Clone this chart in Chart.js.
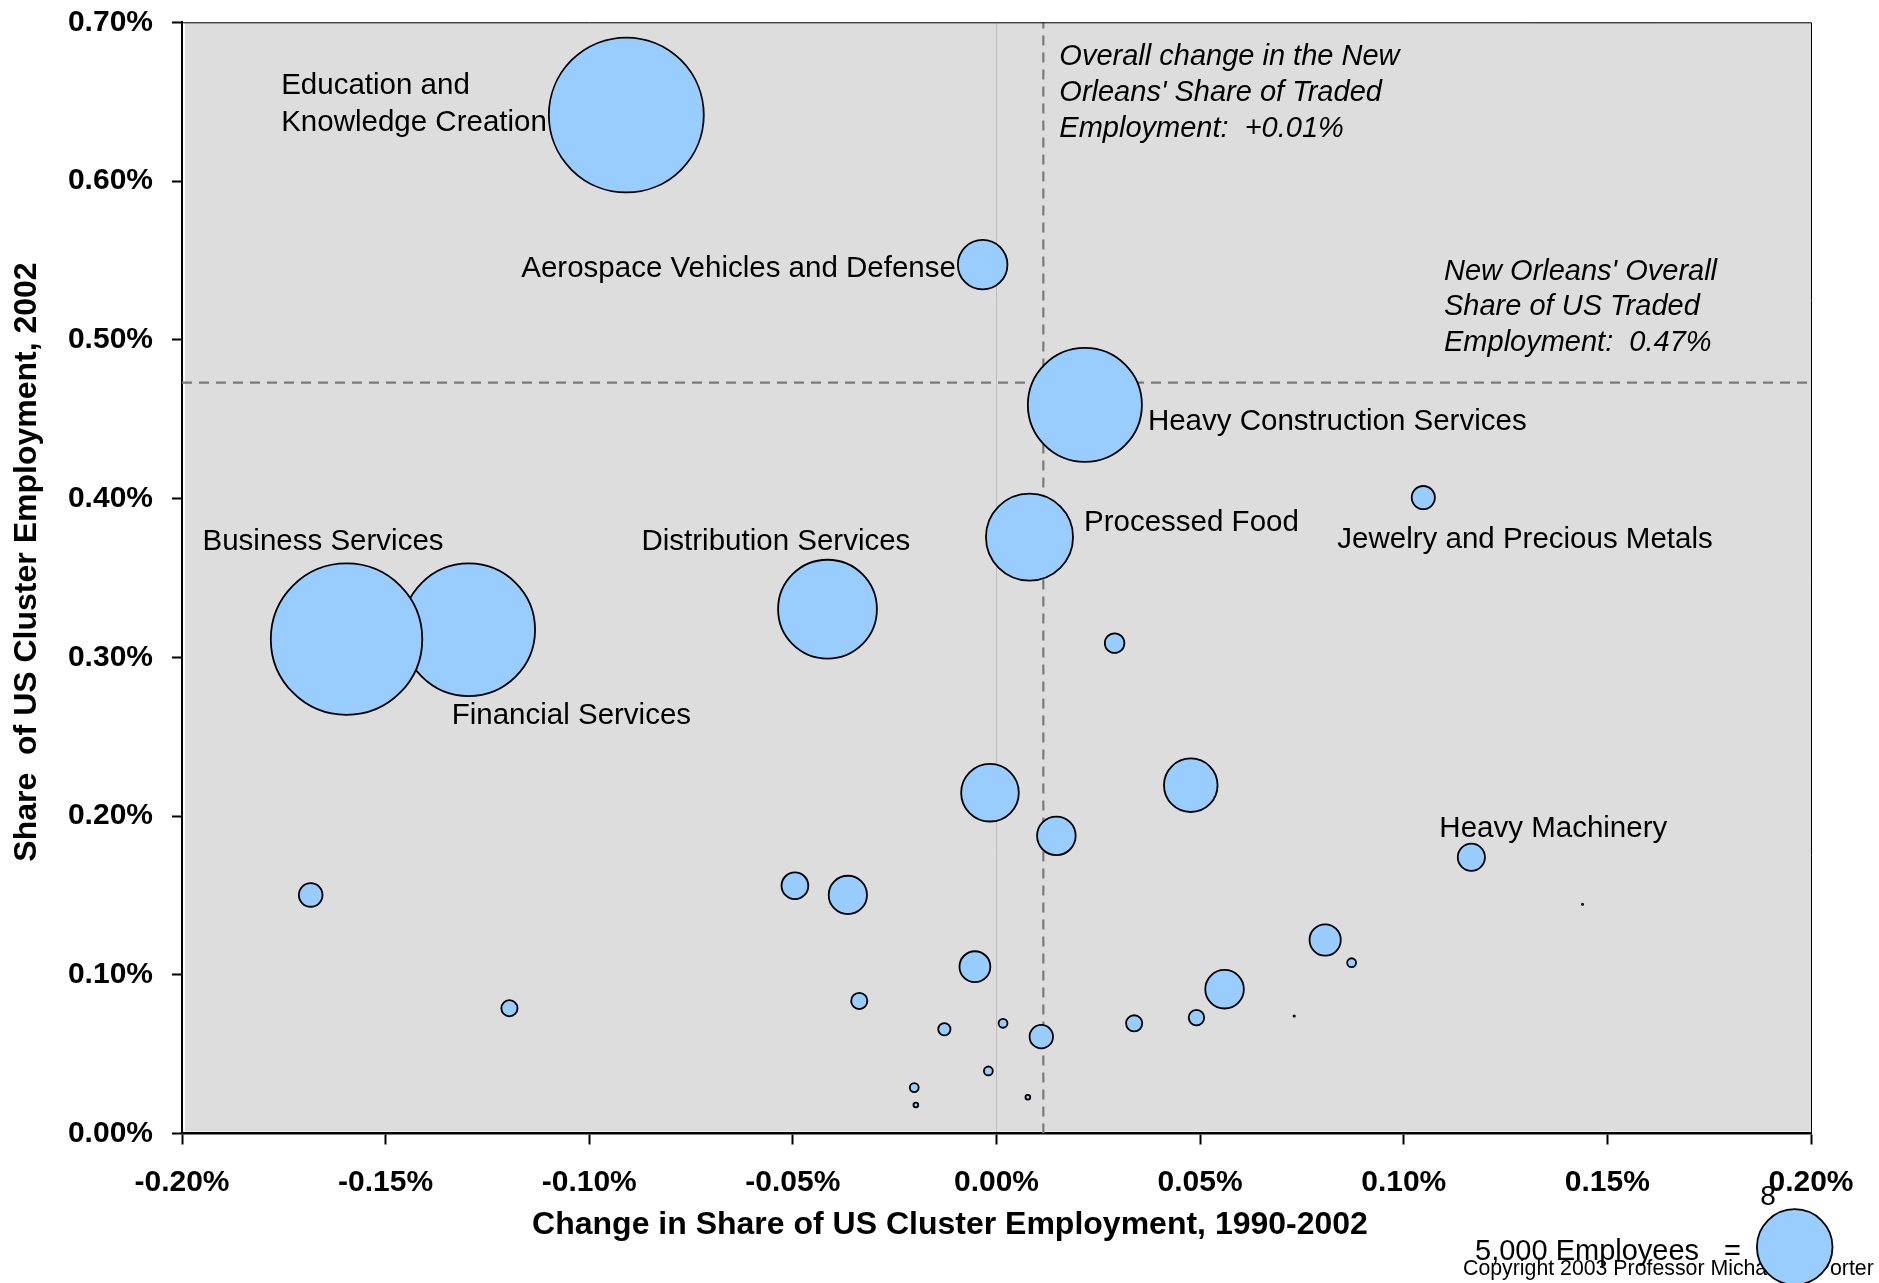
<!DOCTYPE html>
<html>
<head>
<meta charset="utf-8">
<title>New Orleans - Traded Clusters</title>
<script src="https://cdn.jsdelivr.net/npm/chart.js@4.4.1/dist/chart.umd.min.js"></script>
<style>
  html, body { margin: 0; padding: 0; background: #fff; overflow: hidden; }
  #wrap { width: 1879px; height: 1283px; }
</style>
</head>
<body>
<div id="wrap"><canvas id="grafico" width="1879" height="1283"></canvas></div>
<script>
// ===== DADOS =====
// Financial Services vem antes de Business Services para ficar por baixo
const clusterNames = [
  'Education and Knowledge Creation', 'Aerospace Vehicles and Defense', 'Heavy Construction Services',
  'Processed Food', 'Jewelry and Precious Metals', 'Financial Services', 'Business Services',
  'Distribution Services', 'Heavy Machinery',
  '', '', '', '', '', '', '', '', '', '', '', '', '', '', '', '', '', '', '', '', '', '', '', ''
];
// variação da participação no emprego do cluster nos EUA, 1990-2002 (%)
const shareChange = [
  -0.0909, -0.0034, 0.0217, 0.0081, 0.1048, -0.1296, -0.1596, -0.0415, 0.1166,
  0.0290, -0.0016, 0.0477, 0.0147, -0.1684, -0.0495, -0.0365, 0.0807, 0.0872, -0.0053,
  -0.1196, -0.0337, 0.0560, 0.0731, 0.0491, 0.0338, 0.0110, 0.0016, -0.0128, -0.0020,
  -0.0202, -0.0198, 0.0077, 0.1439
];
// participação no emprego do cluster nos EUA, 2002 (%)
const share2002 = [
  0.6416, 0.5473, 0.4590, 0.3757, 0.4006, 0.3173, 0.3114, 0.3303, 0.1740,
  0.3089, 0.2147, 0.2194, 0.1875, 0.1503, 0.1561, 0.1503, 0.1219, 0.1076, 0.1051,
  0.0789, 0.0835, 0.0909, 0.0740, 0.0730, 0.0694, 0.0610, 0.0694, 0.0657, 0.0394,
  0.0289, 0.0180, 0.0228, 0.1444
];
// empregados no cluster
const employees = [
  20500, 2200, 11200, 6600, 520, 15100, 19600, 8450, 700,
  380, 2950, 2560, 1360, 540, 680, 1340, 910, 95, 890,
  270, 270, 1360, 8, 250, 270, 530, 95, 165, 95,
  95, 36, 36, 8
];

const xTickValues = [-0.20, -0.15, -0.10, -0.05, 0.00, 0.05, 0.10, 0.15, 0.20];
const yTickValues = [0.00, 0.10, 0.20, 0.30, 0.40, 0.50, 0.60, 0.70];

const overallChange = 0.0115;   // variação total de New Orleans
const overallShare = 0.473;     // participação total de New Orleans
const legendEmployees = 5000;

// ===== ESTILO =====
const FONTE = '"Liberation Sans", Arial, Helvetica, sans-serif';
const AZUL = '#99CCFF';
const R_LEGENDA = 38.7;   // raio (px) da bolha de 5.000 empregados
const LINE_H = 36.3;

function raio(emp) {
  return Math.max(R_LEGENDA * Math.sqrt(emp / legendEmployees) - 0.9, 0.6);
}

// posição dos rótulos em relação à bolha
const labelLayout = {
  'Education and Knowledge Creation': { side: 'left', gap: 2, shift: -13, lines: ['Education and', 'Knowledge Creation'] },
  'Aerospace Vehicles and Defense': { side: 'left', gap: 2, shift: 1.5 },
  'Heavy Construction Services': { side: 'right', gap: 6, shift: 15 },
  'Processed Food': { side: 'right', gap: 11, shift: -16 },
  'Jewelry and Precious Metals': { side: 'below', gap: 18, shift: -86 },
  'Financial Services': { side: 'below', gap: 7, shift: -17 },
  'Business Services': { side: 'above', gap: 13, shift: -144 },
  'Distribution Services': { side: 'above', gap: 10, shift: -186 },
  'Heavy Machinery': { side: 'above', gap: 7, shift: -32 },
};

const bolhas = clusterNames.map((n, i) => ({ x: shareChange[i], y: share2002[i], r: raio(employees[i]) }));

// ===== PLUGINS =====
const fundoPlot = {
  id: 'fundoPlot',
  beforeDraw(chart) {
    const { ctx, chartArea: a } = chart;
    ctx.save();
    ctx.fillStyle = '#DDDDDD';
    ctx.fillRect(a.left + 3, a.top, a.right - a.left - 3, a.bottom - a.top - 2);
    ctx.restore();
  }
};

const rotulos = {
  id: 'rotulos',
  afterDatasetsDraw(chart) {
    const { ctx, chartArea: a, scales } = chart;
    const meta = chart.getDatasetMeta(0);
    const capH = 29 * 0.716;
    ctx.save();
    ctx.fillStyle = '#000';
    ctx.textAlign = 'left';
    ctx.textBaseline = 'alphabetic';
    ctx.font = `29.5px ${FONTE}`;

    clusterNames.forEach((nome, i) => {
      const cfg = labelLayout[nome];
      if (!cfg) return;
      const el = meta.data[i];
      const r = el.options.radius;
      const linhas = cfg.lines || [nome];
      const larg = Math.max(...linhas.map(l => ctx.measureText(l).width));
      const bloco = (linhas.length - 1) * LINE_H;
      let x, y;
      if (cfg.side === 'left' || cfg.side === 'right') {
        x = cfg.side === 'left' ? el.x - r - cfg.gap - larg : el.x + r + cfg.gap;
        y = el.y + cfg.shift - bloco / 2 + capH / 2;
      } else if (cfg.side === 'above') {
        x = el.x + cfg.shift;
        y = el.y - r - cfg.gap - bloco;
      } else {
        x = el.x + cfg.shift;
        y = el.y + r + cfg.gap + capH;
      }
      linhas.forEach((l, k) => ctx.fillText(l, x, y + k * LINE_H));
    });

    // anotações das médias
    ctx.font = `italic 29px ${FONTE}`;
    const anot1 = ['Overall change in the New', "Orleans' Share of Traded",
      'Employment:  +' + overallChange.toFixed(2) + '%'];
    const x1 = scales.x.getPixelForValue(overallChange) + 16;
    anot1.forEach((l, k) => ctx.fillText(l, x1, a.top + 43 + k * 36));

    const anot2 = ["New Orleans' Overall", 'Share of US Traded',
      'Employment:  ' + overallShare.toFixed(2) + '%'];
    const y2 = scales.y.getPixelForValue(overallShare) - 32;
    anot2.forEach((l, k) => ctx.fillText(l, a.right - 367, y2 - (2 - k) * 35.5));
    ctx.restore();
  }
};

const extras = {
  id: 'extras',
  afterDraw(chart) {
    const { ctx, chartArea: a } = chart;
    ctx.save();
    ctx.fillStyle = '#000';

    // moldura superior e direita
    ctx.strokeStyle = '#000';
    ctx.lineWidth = 1;
    ctx.beginPath();
    ctx.moveTo(a.left, a.top + 0.5);
    ctx.lineTo(a.right + 0.5, a.top + 0.5);
    ctx.lineTo(a.right + 0.5, a.bottom);
    ctx.stroke();

    // títulos dos eixos
    ctx.font = `bold 32px ${FONTE}`;
    ctx.textAlign = 'center';
    ctx.textBaseline = 'alphabetic';
    ctx.fillText('Change in Share of US Cluster Employment, 1990-2002', 950, 1234);

    ctx.save();
    ctx.translate(27, 562);
    ctx.rotate(-Math.PI / 2);
    ctx.font = `bold 32px ${FONTE}`;
    ctx.textBaseline = 'middle';
    ctx.fillText('Share  of US Cluster Employment, 2002', 0, 0);
    ctx.restore();

    // copyright fica por baixo da bolha da legenda
    ctx.textAlign = 'left';
    ctx.font = `21.3px ${FONTE}`;
    ctx.fillText('Copyright 2003 Professor Michael E. Porter', 1463, 1275);

    ctx.font = `29px ${FONTE}`;
    ctx.fillText(legendEmployees.toLocaleString('en-US') + ' Employees', 1475, 1260);
    ctx.fillText('=', 1724, 1260);

    const rl = raio(legendEmployees);
    ctx.beginPath();
    ctx.arc(1794.7, 1247, rl, 0, Math.PI * 2);
    ctx.fillStyle = AZUL;
    ctx.fill();
    ctx.lineWidth = 1.8;
    ctx.strokeStyle = '#000';
    ctx.stroke();

    ctx.fillStyle = '#000';
    ctx.font = `28px ${FONTE}`;
    ctx.textAlign = 'center';
    ctx.fillText('8', 1768, 1205);
    ctx.restore();
  }
};

// ===== GRÁFICO =====
const fmtPct = v => v.toFixed(2) + '%';

const grafico = new Chart(document.getElementById('grafico').getContext('2d'), {
  type: 'bubble',
  data: {
    datasets: [
      {
        label: 'Clusters',
        data: bolhas,
        backgroundColor: AZUL,
        borderColor: '#000',
        borderWidth: 1.8,
        order: 0,
      },
      {
        type: 'line',
        label: 'Overall change',
        data: [{ x: overallChange, y: 0 }, { x: overallChange, y: 0.7 }],
        borderColor: '#7a7a7a',
        borderWidth: 2.2,
        borderDash: [10, 7],
        pointRadius: 0,
        fill: false,
        order: 1,
      },
      {
        type: 'line',
        label: 'Overall share',
        data: [{ x: -0.2, y: overallShare }, { x: 0.2, y: overallShare }],
        borderColor: '#7a7a7a',
        borderWidth: 2.2,
        borderDash: [10, 7],
        pointRadius: 0,
        fill: false,
        order: 1,
      }
    ]
  },
  options: {
    responsive: false,
    animation: false,
    events: [],
    layout: { padding: { top: 22.3, right: 68, left: 0, bottom: 0 } },
    plugins: {
      legend: { display: false },
      tooltip: { enabled: false },
    },
    scales: {
      x: {
        type: 'linear',
        min: -0.2,
        max: 0.2,
        afterBuildTicks: s => { s.ticks = xTickValues.map(v => ({ value: v })); },
        afterFit: s => { s.height = 149.5; },
        ticks: {
          callback: fmtPct,
          color: '#000',
          font: { family: FONTE, size: 30, weight: 'bold' },
          padding: 20,
          maxRotation: 0,
          autoSkip: false,
        },
        grid: {
          drawOnChartArea: true,
          color: c => (c.tick && Math.abs(c.tick.value) < 1e-9) ? '#BDBDBD' : 'rgba(0,0,0,0)',
          lineWidth: 1,
          tickColor: '#000',
          tickLength: 11,
          tickWidth: 2,
        },
        border: { display: true, color: '#000', width: 2.5 },
      },
      y: {
        type: 'linear',
        min: 0,
        max: 0.7,
        afterBuildTicks: s => { s.ticks = yTickValues.map(v => ({ value: v })); },
        // rótulos de 0.70% podem sair da área sem empurrar o topo
        afterFit: s => { s.width = 182; s.paddingTop = 0; s.paddingBottom = 0; },
        ticks: {
          callback: fmtPct,
          color: '#000',
          font: { family: FONTE, size: 30, weight: 'bold' },
          padding: 19,
          autoSkip: false,
        },
        grid: {
          drawOnChartArea: false,
          tickColor: '#000',
          tickLength: 10,
          tickWidth: 2,
        },
        border: { display: true, color: '#000', width: 2 },
      }
    }
  },
  plugins: [fundoPlot, rotulos, extras]
});

// as bolhas grandes não devem empurrar a área do gráfico para dentro
grafico.getDatasetMeta(0).controller.getMaxOverflow = () => false;
grafico.update();
</script>
</body>
</html>
